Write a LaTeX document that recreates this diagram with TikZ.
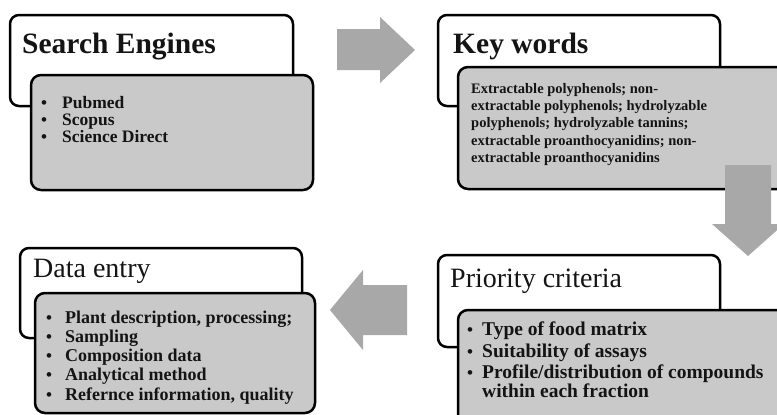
\documentclass[tikz,border=0pt]{standalone}
\usepackage{fontspec}
\setmainfont{Liberation Serif}
\definecolor{boxgray}{HTML}{C9C9C9}
\definecolor{arrowgray}{HTML}{A8A8A8}
\definecolor{ink}{HTML}{141414}
\begin{document}
\begin{tikzpicture}[x=1pt,y=-1pt,
  whitebox/.style={draw=black, line width=2.5pt, fill=white, rounded corners=9pt},
  graybox/.style={draw=black, line width=2.5pt, fill=boxgray, rounded corners=10pt},
  blockarrow/.style={fill=arrowgray, draw=none},
  txt/.style={anchor=base west, inner sep=0pt, text=ink},
  headb/.style={txt, font=\fontsize{29.5}{33}\selectfont\bfseries},
  headr/.style={txt, font=\fontsize{28}{32}\selectfont},
  itemse/.style={txt, font=\fontsize{17.5}{20}\selectfont\bfseries},
  itemkw/.style={txt, font=\fontsize{14.5}{17}\selectfont\bfseries},
  itemde/.style={txt, font=\fontsize{18}{20}\selectfont\bfseries},
  itempc/.style={txt, font=\fontsize{19.5}{21}\selectfont\bfseries},
  bul/.style={txt, font=\fontsize{17}{18}\selectfont\bfseries}
]
\clip (0,0) rectangle (777,415);
\fill[white] (0,0) rectangle (777,415);

% Search Engines
\draw[whitebox] (10,15) rectangle (293,106);
\draw[graybox] (31,75) rectangle (313,190);
\node[headb] (seh) at (22,53) {Search Engines};
\node[bul] (seb1) at (41,108) {•};
\node[bul] (seb2) at (41,125) {•};
\node[bul] (seb3) at (41,142) {•};
\node[itemse] (se1) at (62,108) {Pubmed};
\node[itemse] (se2) at (62,125) {Scopus};
\node[itemse] (se3) at (62,142) {Science Direct};

% Key words
\draw[whitebox] (438,15) rectangle (720,106);
\draw[graybox] (458,67) rectangle (800,189);
\node[headb] (kwh) at (453,53) {Key words};
\node[itemkw] (kw1) at (471,93) {Extractable polyphenols; non-};
\node[itemkw] (kw2) at (471,110) {extractable polyphenols; hydrolyzable};
\node[itemkw] (kw3) at (471,127) {polyphenols; hydrolyzable tannins;};
\node[itemkw] (kw4) at (471,145) {extractable proanthocyanidins; non-};
\node[itemkw] (kw5) at (471,162) {extractable proanthocyanidins};

% Data entry
\draw[whitebox] (20,248) rectangle (302,338);
\draw[graybox] (35,293) rectangle (315,413);
\node[headr] (deh) at (33,277) {Data entry};
\node[bul] (deb1) at (46,323) {•};
\node[bul] (deb2) at (46,342) {•};
\node[bul] (deb3) at (46,361) {•};
\node[bul] (deb4) at (46,380) {•};
\node[bul] (deb5) at (46,400) {•};
\node[itemde] (de1) at (65,323) {Plant description, processing;};
\node[itemde] (de2) at (65,342) {Sampling};
\node[itemde] (de3) at (65,361) {Composition data};
\node[itemde] (de4) at (65,380) {Analytical method};
\node[itemde] (de5) at (65,400) {Refernce information, quality};

% Priority criteria
\draw[whitebox] (438,255) rectangle (720,347);
\draw[graybox] (458,310) rectangle (800,440);
\node[headr] (pch) at (450,287) {Priority criteria};
\node[bul] (pcb1) at (467,335) {•};
\node[bul] (pcb2) at (467,357) {•};
\node[bul] (pcb3) at (467,378) {•};
\node[itempc] (pc1) at (482,335) {Type of food matrix};
\node[itempc] (pc2) at (482,357) {Suitability of assays};
\node[itempc] (pc3) at (482,378) {Profile/distribution of compounds};
\node[itempc] (pc4) at (482,397) {within each fraction};

% block arrows
\fill[blockarrow] (337,29) -- (380,29) -- (380,17) -- (415,50) -- (380,83) -- (380,70) -- (337,70) -- cycle;
\fill[blockarrow] (725,165) -- (771,165) -- (771,224) -- (784,224) -- (748,256) -- (712,224) -- (725,224) -- cycle;
\fill[blockarrow] (407,285) -- (363,285) -- (363,270) -- (330,310) -- (363,350) -- (363,335) -- (407,335) -- cycle;
\end{tikzpicture}
\end{document}
